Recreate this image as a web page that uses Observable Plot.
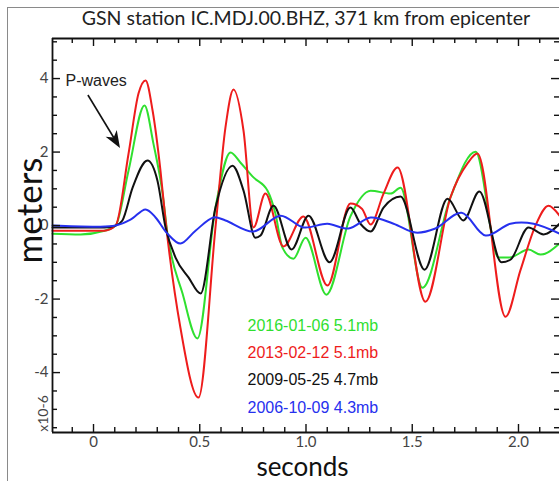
<!DOCTYPE html>
<html><head><meta charset="utf-8">
<script src="https://cdn.jsdelivr.net/npm/d3@7"></script>
<script src="https://cdn.jsdelivr.net/npm/@observablehq/plot@0.6"></script>
<style>
html,body{margin:0;padding:0;background:#fff;overflow:hidden;}
#wrap{position:relative;width:559px;height:481px;overflow:hidden;}
#border{position:absolute;left:7px;top:7px;width:640px;height:640px;border:1.5px solid #8a8a8a;}
#chart{position:absolute;left:0;top:0;}
</style></head><body><div id="wrap"><div id="border"></div><div id="chart"></div></div>
<script>
// ---- data (displacement in units of 1e-6 m, time in seconds) ----
const seriesNames = ["2016-01-06 5.1mb", "2013-02-12 5.1mb", "2009-05-25 4.7mb", "2006-10-09 4.3mb"];
const seriesColors = ["#2fe02f", "#ee1c1c", "#111111", "#2630ee"];

const green = [[-0.193,-0.22],[-0.061,-0.24],[0.052,-0.14],[0.104,0],[0.165,1.5],[0.24,3.27],[0.282,2.23],[0.325,0.87],[0.348,-0.22],[0.419,-1.85],[0.489,-3.07],[0.574,0.49],[0.645,1.99],[0.692,1.71],[0.753,1.31],[0.819,0.95],[0.856,0.33],[0.889,-0.6],[0.941,-0.9],[0.998,-0.33],[1.096,-1.88],[1.209,0.25],[1.304,0.95],[1.398,0.87],[1.445,1.03],[1.548,-1.69],[1.68,0.77],[1.798,2.01],[1.906,-0.87],[1.958,-0.87],[2.047,-0.65],[2.104,-0.79],[2.193,-0.49]];

const red = [[-0.193,-0.14],[0.05,-0.14],[0.104,0],[0.165,1.96],[0.212,3.6],[0.245,3.95],[0.278,3.13],[0.315,1.5],[0.339,0.14],[0.409,-2.78],[0.494,-4.68],[0.574,-0.05],[0.621,2.67],[0.659,3.7],[0.706,2.58],[0.753,-0.05],[0.809,0.87],[0.894,-0.57],[0.988,0.25],[1.101,-1.63],[1.209,0.6],[1.263,0.46],[1.304,0.03],[1.365,0.87],[1.431,1.58],[1.562,-2.07],[1.68,0.77],[1.76,1.69],[1.807,1.96],[1.939,-2.48],[2.009,-1.22],[2.08,0.0],[2.141,0.54],[2.193,0.27]];

const black = [[-0.193,-0.05],[0.052,-0.05],[0.104,0],[0.136,0.14],[0.184,1.03],[0.254,1.77],[0.301,1.22],[0.339,-0.05],[0.386,-0.87],[0.447,-1.41],[0.504,-1.85],[0.574,0.49],[0.654,1.63],[0.706,0.95],[0.762,-0.33],[0.786,-0.27],[0.847,0.54],[0.932,-0.65],[1.012,0.27],[1.111,-1.0],[1.209,0.49],[1.256,0.05],[1.304,-0.16],[1.365,0.49],[1.445,0.79],[1.558,-1.2],[1.666,0.73],[1.741,0.14],[1.816,0.93],[1.92,-1.0],[1.962,-0.93],[2.047,-0.05],[2.118,-0.24],[2.193,0.05]];

const blue = [[-0.193,0],[0.009,-0.03],[0.104,0],[0.174,0.16],[0.245,0.44],[0.292,0.22],[0.348,-0.22],[0.409,-0.49],[0.48,-0.14],[0.565,0.22],[0.621,0.14],[0.753,-0.16],[0.88,0.27],[0.988,-0.05],[1.101,0.05],[1.2,-0.08],[1.304,0.22],[1.412,0.05],[1.515,-0.19],[1.609,-0.08],[1.732,0.35],[1.845,-0.27],[1.962,0.05],[2.071,0.05],[2.193,-0.22]];

const seriesData = [green, red, black, blue];

// ---- axes / ticks ----
const xDomain = [-0.193, 2.193];
const yDomain = [-5.63, 5.09];
const xMajor = [0, 0.5, 1.0, 1.5, 2.0];
const xMajorLabels = ["0", "0.5", "1.0", "1.5", "2.0"];
const xMinor = [-0.1,0.1,0.2,0.3,0.4,0.6,0.7,0.8,0.9,1.1,1.2,1.3,1.4,1.6,1.7,1.8,1.9,2.1];
const yMajor = [-4, -2, 0, 2, 4];
const yMajorLabels = ["-4", "-2", "0", "2", "4"];
const yMinor = [-5.5,-5,-4.5,-3.5,-3,-2.5,-1.5,-1,-0.5,0.5,1,1.5,2.5,3,3.5,4.5,5];

const titleText = "GSN station IC.MDJ.00.BHZ, 371 km from epicenter";
const xLabel = "seconds";
const yLabel = "meters";
const yExponent = "x10-6";
const annotText = "P-waves";
const annotTextPos = [-0.132, 3.95];
const arrowFrom = [-0.024, 3.54];
const arrowTo = [0.127, 2.10];

// ---- layout ----
const W = 559, H = 481;
const mL = 52, mT = 38, mB = H - 432, mR = 0;
const fw = W - mL - mR, fh = H - mT - mB;
const sans = "Lato, 'Open Sans', sans-serif";
const helv = "'Liberation Sans', Arial, sans-serif";

const lines = seriesData.map((s, i) => Plot.line(s, {
  x: d => d[0], y: d => d[1], stroke: seriesColors[i], strokeWidth: 2,
  curve: i === 3 ? "catmull-rom" : "monotone-x"
}));

const legend = seriesNames.map((n, i) => Plot.text([n], {
  frameAnchor: "top-left", dx: 247 - mL, dy: (325 - mT) + i * 27.4,
  textAnchor: "start", lineAnchor: "middle", fill: seriesColors[i],
  fontSize: 16, fontFamily: helv
}));

function arrowMark(index, scales) {
  const x0 = scales.x(arrowFrom[0]), y0 = scales.y(arrowFrom[1]);
  const x1 = scales.x(arrowTo[0]), y1 = scales.y(arrowTo[1]);
  const dx = x1 - x0, dy = y1 - y0, L = Math.hypot(dx, dy);
  const ux = dx / L, uy = dy / L, nx = -uy, ny = ux;
  const hl = 17, hw = 6.5;
  const g = d3.create("svg:g");
  g.append("line").attr("x1", x0).attr("y1", y0)
    .attr("x2", x1 - ux * hl * 0.7).attr("y2", y1 - uy * hl * 0.7)
    .attr("stroke", "#111").attr("stroke-width", 1.6);
  const pts = [[x1, y1], [x1 - ux * hl + nx * hw, y1 - uy * hl + ny * hw],
    [x1 - ux * hl * 0.72, y1 - uy * hl * 0.72], [x1 - ux * hl - nx * hw, y1 - uy * hl - ny * hw]];
  g.append("polygon").attr("points", pts.map(p => p.join(",")).join(" ")).attr("fill", "#111");
  return g.node();
}

const chart = Plot.plot({
  width: W, height: H,
  marginLeft: mL, marginTop: mT, marginBottom: mB, marginRight: mR,
  style: {background: "transparent", overflow: "visible"},
  x: {domain: xDomain},
  y: {domain: yDomain},
  marks: [
    ...lines,
    // inward ticks
    Plot.ruleX(xMajor, {x: d => d, insetTop: fh - 8, stroke: "#111", strokeWidth: 1.4}),
    Plot.ruleX(xMinor, {x: d => d, insetTop: fh - 5, stroke: "#111", strokeWidth: 1.4}),
    Plot.ruleX(xMajor, {x: d => d, insetBottom: fh - 8, stroke: "#111", strokeWidth: 1.4}),
    Plot.ruleX(xMinor, {x: d => d, insetBottom: fh - 5, stroke: "#111", strokeWidth: 1.4}),
    Plot.ruleY(yMajor, {y: d => d, insetRight: fw - 8, stroke: "#111", strokeWidth: 1.4}),
    Plot.ruleY(yMinor, {y: d => d, insetRight: fw - 5, stroke: "#111", strokeWidth: 1.4}),
    Plot.ruleY(yMajor, {y: d => d, insetLeft: fw - 8, stroke: "#111", strokeWidth: 1.4}),
    Plot.ruleY(yMinor, {y: d => d, insetLeft: fw - 5, stroke: "#111", strokeWidth: 1.4}),
    // frame lines
    Plot.ruleX([xDomain[0]], {x: d => d, stroke: "#111", strokeWidth: 1.8}),
    Plot.ruleY([yDomain[0]], {y: d => d, stroke: "#111", strokeWidth: 1.8}),
    Plot.ruleY([yDomain[1]], {y: d => d, stroke: "#111", strokeWidth: 1.8}),
    // tick labels
    Plot.axisX({ticks: xMajor, tickSize: 0, tickPadding: 4, tickFormat: d => xMajorLabels[xMajor.indexOf(d)],
      fontSize: 15, fontFamily: sans, fill: "#444", label: null}),
    Plot.axisY({ticks: yMajor, tickSize: 0, tickPadding: 4, tickFormat: d => yMajorLabels[yMajor.indexOf(d)],
      fontSize: 15, fontFamily: sans, fill: "#444", label: null}),
    // titles
    Plot.text([titleText], {frameAnchor: "top", dy: 18 - mT, lineAnchor: "middle", fontSize: 19.5, fontFamily: sans, fill: "#222"}),
    Plot.text([xLabel], {frameAnchor: "bottom", dx: 302 - (mL + fw / 2), dy: 467 - 432, lineAnchor: "middle", textAnchor: "middle", fontSize: 26, fontFamily: sans, fill: "#111"}),
    Plot.text([yLabel], {frameAnchor: "left", rotate: -90, dx: 30 - mL, dy: 210 - (mT + fh / 2), lineAnchor: "middle", textAnchor: "middle", fontSize: 35, fontFamily: sans, fill: "#111"}),
    Plot.text([yExponent], {frameAnchor: "bottom-left", rotate: -90, dx: 43 - mL, dy: 413 - 432, lineAnchor: "middle", textAnchor: "middle", fontSize: 14, fontFamily: sans, fill: "#444"}),
    // annotation
    Plot.text([annotText], {x: annotTextPos[0], y: annotTextPos[1], textAnchor: "start", lineAnchor: "middle", fontSize: 16, fontFamily: helv, fill: "#222"}),
    arrowMark,
    ...legend
  ]
});
document.getElementById("chart").appendChild(chart);
</script>
</body></html>
